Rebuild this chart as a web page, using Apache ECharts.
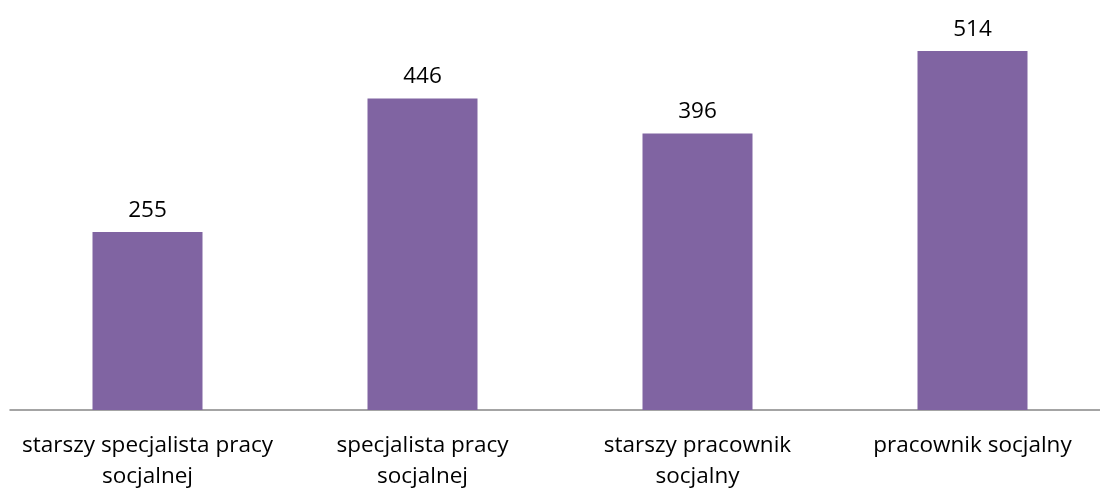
<!DOCTYPE html>
<html>
<head>
<meta charset="utf-8">
<script src="https://cdn.jsdelivr.net/npm/echarts@6/dist/echarts.min.js"></script>
<style>
  html, body { margin: 0; padding: 0; background: #fff; }
  #chart { width: 1100px; height: 490px; }
</style>
</head>
<body>
<div id="chart"></div>
<script>
// kategorie i wartości
const categories = [
  "starszy specjalista pracy\nsocjalnej",
  "specjalista pracy\nsocjalnej",
  "starszy pracownik\nsocjalny",
  "pracownik socjalny",
];
const values = [255, 446, 396, 514];

const FONT = "'Open Sans', 'Noto Sans', sans-serif";

const chart = echarts.init(document.getElementById("chart"));
chart.setOption({
  animation: false,
  grid: {
    left: 10, width: 1100, top: 0, height: 410,
    containLabel: false, outerBoundsMode: "none",
  },
  xAxis: {
    type: "category",
    data: categories,
    axisLine: { lineStyle: { color: "#868686", width: 1.5 } },
    axisTick: { show: false },
    axisLabel: {
      color: "#000",
      fontFamily: FONT,
      fontSize: 22.5,
      lineHeight: 31,
      margin: 20,
      interval: 0,
    },
  },
  yAxis: {
    type: "value",
    min: 0,
    max: 587,
    show: false,
    splitLine: { show: false },
  },
  series: [
    {
      type: "bar",
      data: values,
      barCategoryGap: "60%",
      itemStyle: { color: "#8064A2" },
      label: {
        show: true,
        position: "top",
        distance: 10,
        color: "#000",
        fontFamily: FONT,
        fontSize: 22.5,
      },
    },
  ],
});
</script>
</body>
</html>
